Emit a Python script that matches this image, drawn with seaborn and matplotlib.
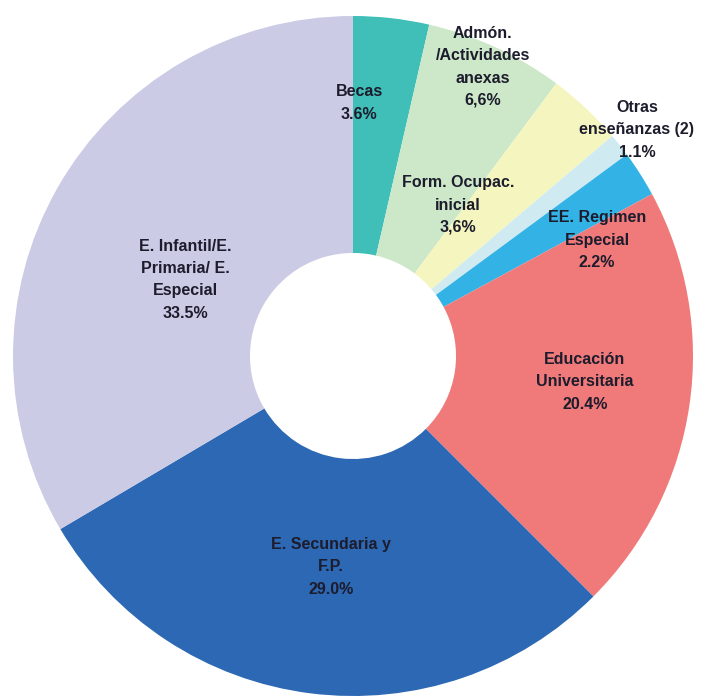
import matplotlib
matplotlib.use('Agg')
import matplotlib.pyplot as plt
import seaborn as sns

# Datos del gráfico (sentido horario desde las 12)
categorias = ['Becas', 'Admón.\n/Actividades\nanexas', 'Form. Ocupac.\ninicial',
              'Otras\nenseñanzas (2)', 'EE. Regimen\nEspecial',
              'Educación\nUniversitaria', 'E. Secundaria y\nF.P.',
              'E. Infantil/E.\nPrimaria/ E.\nEspecial']
porcentajes = [3.6, 6.6, 3.6, 1.1, 2.2, 20.4, 29.0, 33.5]
etiquetas_pct = ['3.6%', '6,6%', '3,6%', '1.1%', '2.2%', '20.4%', '29.0%', '33.5%']

colores = ['#3fbfb8', '#cde8c8', '#f5f5c0', '#cfebf1', '#33b2e6',
           '#f07a7a', '#2c68b3', '#cbcbe5']

# Posición de cada etiqueta (unidades del gráfico, radio exterior = 1)
etiqueta_x = [0.018, 0.382, 0.309, 0.835, 0.718, 0.682, -0.065, -0.494]
etiqueta_y = [0.744, 0.850, 0.444, 0.665, 0.341, -0.076, -0.620, 0.224]

sns.set_theme(style='white')
plt.rcParams['font.family'] = ['Liberation Sans', 'DejaVu Sans']

fig = plt.figure(figsize=(7.08, 6.96), dpi=100)
ax = fig.add_axes([0, 0, 1, 1])

ax.pie(porcentajes, colors=colores, startangle=90, counterclock=False,
       radius=1.0, wedgeprops=dict(width=0.697, edgecolor='none'))

for cat, pct, x, y in zip(categorias, etiquetas_pct, etiqueta_x, etiqueta_y):
    ax.text(x, y, cat + '\n' + pct, ha='center', va='center',
            fontsize=11.5, fontweight='bold', color='#1c1c2c',
            linespacing=1.6)

ax.set_xlim(-353 / 340, (708 - 353) / 340)
ax.set_ylim((356 - 696) / 340, 356 / 340)
ax.set_aspect('equal')
ax.axis('off')

plt.savefig('out.png', dpi=100, facecolor='white')
